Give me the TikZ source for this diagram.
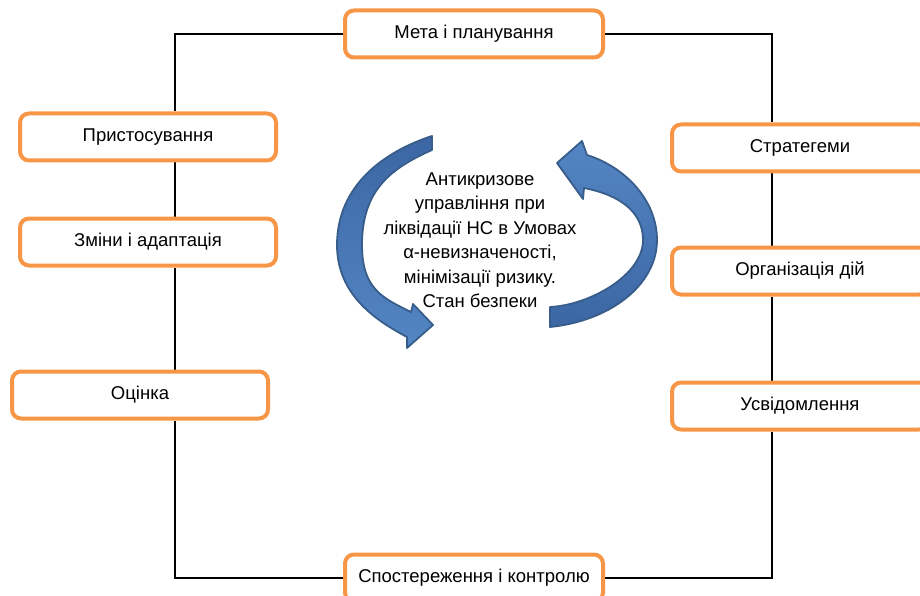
\documentclass[tikz,border=0pt]{standalone}
\usepackage{fontspec}
\setmainfont{Liberation Sans}
\usetikzlibrary{backgrounds}
\definecolor{boxorange}{RGB}{247,150,70}
\definecolor{turnlight}{RGB}{84,134,196}
\definecolor{turndark}{RGB}{60,102,164}
\definecolor{turnedge}{RGB}{56,93,138}

\begin{document}
\begin{tikzpicture}[x=1pt,y=-1pt,
  stagebox/.style={draw=boxorange, line width=4pt, rounded corners=9pt, fill=white,
    minimum height=47pt, inner sep=0pt, text height=12pt, text depth=3pt,
    font=\fontsize{18.5}{22}\selectfont},
  conn/.style={draw=black, line width=1.6pt},
  turn/.style={draw=turnedge, line width=1.8pt, line join=round}
]
\useasboundingbox (0,0) rectangle (920,596);

\begin{scope}
\clip (0,0) rectangle (920,596);

% stages of the cycle
\node[stagebox, minimum width=258pt] (meta)  at (474,34)  {Мета і планування};
\node[stagebox, minimum width=256pt] (pryst) at (148,137) {Пристосування};
\node[stagebox, minimum width=256pt] (zminy) at (148,242) {Зміни і адаптація};
\node[stagebox, minimum width=256pt] (ocin)  at (140,395) {Оцінка};
\node[stagebox, minimum width=256pt] (strat) at (800,148) {Стратегеми};
\node[stagebox, minimum width=256pt] (org)   at (800,271) {Організація дій};
\node[stagebox, minimum width=256pt] (usv)   at (800,406) {Усвідомлення};
\node[stagebox, minimum width=258pt] (spost) at (474,578) {Спостереження і контролю};
\end{scope}

% corners of the frame
\coordinate (tl) at (175,34);
\coordinate (tr) at (772,34);
\coordinate (bl) at (175,578);
\coordinate (br) at (772,578);

\begin{scope}[on background layer]
\draw[conn] (meta.west) -- (tl) -- (pryst.north -| tl);
\draw[conn] (pryst.south -| tl) -- (zminy.north -| tl);
\draw[conn] (zminy.south -| tl) -- (ocin.north -| tl);
\draw[conn] (ocin.south -| bl) -- (bl) -- (spost.west);
\draw[conn] (meta.east) -- (tr) -- (strat.north -| tr);
\draw[conn] (strat.south -| tr) -- (org.north -| tr);
\draw[conn] (org.south -| tr) -- (usv.north -| tr);
\draw[conn] (usv.south -| br) -- (br) -- (spost.east);
\end{scope}

% left curved arrow
\path[turn, top color=turndark, bottom color=turnlight]
  (432,136) .. controls (384.5,151.5) and (337,185) .. (337,245)
  .. controls (337,295) and (376,320.5) .. (407,337)
  -- (407,348) -- (433,325) -- (413,304) -- (411,312)
  .. controls (384,298.5) and (362,290) .. (362,245)
  .. controls (362,190) and (390.9,168.3) .. (432,150) -- cycle;

% right curved arrow
\path[turn, top color=turnlight, bottom color=turndark]
  (550,327) .. controls (610,321) and (657,285) .. (657,240)
  .. controls (657,200) and (625,167) .. (587,155)
  -- (582,141) -- (557,163) -- (583,199) -- (584,188)
  .. controls (620,195) and (643,212) .. (643,240)
  .. controls (643,275) and (590,305) .. (550,307) -- cycle;

% central statement
\node[align=center, font=\fontsize{18.5}{24.5}\selectfont] (core) at (480,240)
  {Антикризове\\управління при\\ліквідації НС в Умовах\\α-невизначеності,\\мінімізації ризику.\\Стан безпеки};
\end{tikzpicture}
\end{document}
